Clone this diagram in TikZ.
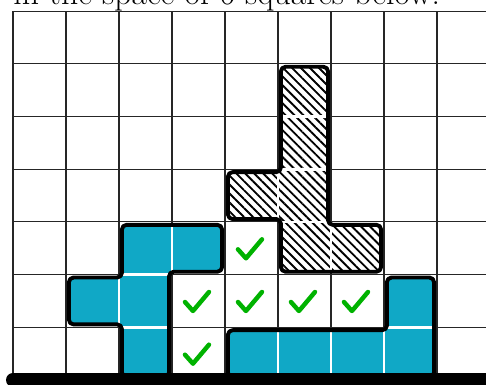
\documentclass[tikz,border=0pt]{standalone}
\usepackage{xcolor}
\usepackage{tikz}
\usetikzlibrary{patterns.meta}
\definecolor{pieceblue}{RGB}{16,168,198}
\definecolor{tickgreen}{RGB}{0,178,0}
\tikzset{
  gridline/.style={line width=0.6pt, black!85},
  piece/.style={line width=2.1pt, rounded corners=2.5pt, line join=round},
  bluefill/.style={fill=pieceblue, rounded corners=2.5pt},
  hatchfill/.style={fill=white, rounded corners=2.5pt,
                    postaction={pattern={Lines[angle=-45, distance=3.4pt, line width=1pt]}}},
  seam/.style={white, line width=1.4pt},
  checkmark/.style={tickgreen, line width=2.4pt, line cap=round, line join=round},
  floorline/.style={line width=7.5pt, line cap=round},
  captiontext/.style={font=\fontsize{18.1}{22}\selectfont, inner sep=0pt, anchor=base west}
}

\begin{document}
\begin{tikzpicture}[y=0.994cm]

% --- Frame of the picture ---
\useasboundingbox (-0.245,-0.0946) rectangle (8.925,7.213);
\clip (-0.245,-0.0946) rectangle (8.925,7.213);

% --- Inset of the pieces from the grid ---
\def\d{0.055}

% --- Caption (top) ---
\node[captiontext] (caption) at (0,7.128) {in the space of 6 squares below.};

% --- Grid ---
\foreach \gx in {0,...,8}
  \draw[gridline] (\gx,0) -- (\gx,7);
\foreach \gy in {1,...,7}
  \draw[gridline] (0,\gy) -- (9.5,\gy);

% --- Piece outlines ---
\def\leftpiece{(2+\d,\d) -- (3-\d,\d) -- (3-\d,2+\d) -- (4-\d,2+\d) -- (4-\d,3-\d)
  -- (2+\d,3-\d) -- (2+\d,2-\d) -- (1+\d,2-\d) -- (1+\d,1+\d) -- (2+\d,1+\d) -- cycle}
\def\rightpiece{(4+\d,\d) -- (8-\d,\d) -- (8-\d,2-\d) -- (7+\d,2-\d) -- (7+\d,1-\d)
  -- (4+\d,1-\d) -- cycle}
\def\hatchpiece{(5+\d,2+\d) -- (7-\d,2+\d) -- (7-\d,3-\d) -- (6-\d,3-\d) -- (6-\d,6-\d)
  -- (5+\d,6-\d) -- (5+\d,4-\d) -- (4+\d,4-\d) -- (4+\d,3+\d) -- (5+\d,3+\d) -- cycle}

% --- Left blue piece ---
\fill[bluefill] \leftpiece;
\draw[seam] (3,2+\d) -- (3,3-\d);
\draw[seam] (2+\d,2) -- (3-\d,2);
\draw[seam] (2,1+\d) -- (2,2-\d);
\draw[seam] (2+\d,1) -- (3-\d,1);
\draw[piece] \leftpiece;

% --- Right blue piece ---
\fill[bluefill] \rightpiece;
\foreach \sx in {5,6,7}
  \draw[seam] (\sx,\d) -- (\sx,1-\d);
\draw[seam] (7+\d,1) -- (8-\d,1);
\draw[piece] \rightpiece;

% --- Hatched piece ---
\fill[hatchfill] \hatchpiece;
\foreach \sy in {3,4,5}
  \draw[seam] (5+\d,\sy) -- (6-\d,\sy);
\draw[seam] (5,3+\d) -- (5,4-\d);
\draw[seam] (6,2+\d) -- (6,3-\d);
\draw[piece] \hatchpiece;

% --- Ticked squares (the 6 free squares) ---
\foreach \cx/\cy in {4/2, 3/1, 4/1, 5/1, 6/1, 3/0}
  \draw[checkmark, shift={(\cx+0.5,\cy+0.5)}] (-0.255,-0.02) -- (-0.104,-0.19) -- (0.198,0.17);

% --- Floor ---
\draw[floorline] (0,0) -- (9.5,0);

\end{tikzpicture}
\end{document}
